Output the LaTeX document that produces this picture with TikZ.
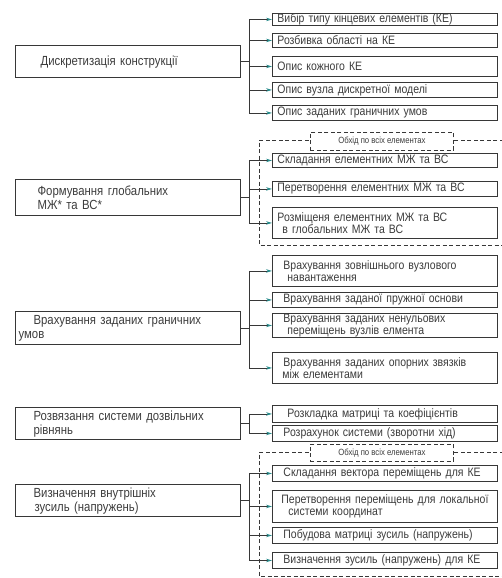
\documentclass[tikz,border=0pt]{standalone}
\usepackage{fontspec}
\setmainfont{Liberation Sans}[FakeStretch=0.86]
\usetikzlibrary{arrows.meta,calc}
\definecolor{tipc}{RGB}{40,140,140}
\definecolor{linec}{RGB}{55,55,55}
\definecolor{txtc}{RGB}{60,60,60}
\tikzset{
 rb/.style={draw=linec, line width=0.9pt, anchor=north west, text width=221pt, inner xsep=2pt, inner ysep=0pt, align=left, font=\fontsize{12.2}{12.5}\selectfont, text=txtc},
 lb/.style={draw=linec, line width=1.2pt, anchor=north west, text width=219pt, inner xsep=3pt, inner ysep=0pt, align=left, font=\fontsize{13.2}{14}\selectfont, text=txtc},
 conn/.style={draw=linec, line width=0.8pt},
 arr/.style={conn, -{Stealth[length=6pt,width=3.5pt,color=tipc]}},
 loopline/.style={draw=linec, line width=0.8pt, dash pattern=on 4pt off 2.5pt},
 lbl/.style={loopline, fill=white, anchor=north west, minimum width=143pt, inner sep=0pt, font=\fontsize{9}{10}\selectfont, text=txtc},
}
\begin{document}
\begin{tikzpicture}[x=1pt,y=-1pt]
\useasboundingbox (0,0) rectangle (502,578);
\coordinate (jx) at (249,0);
% ---------- group 1
\node[lb, minimum height=32] (d) at (15,45) {\hspace*{22pt}Дискретизація конструкції};
\node[rb, minimum height=12] (d1) at (272,13) {\hspace*{3pt}Вибір типу кінцевих елементів (КЕ)};
\node[rb, minimum height=14] (d2) at (272,33) {\hspace*{3pt}Розбивка області на КЕ};
\node[rb, minimum height=20] (d3) at (272,56) {\hspace*{3pt}Опис кожного КЕ};
\node[rb, minimum height=15] (d4) at (272,82) {\hspace*{3pt}Опис вузла дискретної моделі};
\node[rb, minimum height=15] (d5) at (272,105) {\hspace*{3pt}Опис заданих граничних умов};
\draw[conn] (d.east) -- (d.east -| jx);
\draw[conn] (jx |- d1.west) -- (jx |- d5.west);
\foreach \n in {d1,d2,d3,d4,d5} \draw[arr] (jx |- \n.west) -- (\n.west);
% ---------- group 2
\draw[loopline] (510,140) -- (259,140) -- (259,245) -- (510,245);
\node[lbl, minimum height=18] (f0) at (310,132) {Обхід по всіх елементах};
\node[lb, minimum height=36] (f) at (15,179) {\hspace*{19pt}Формування глобальних\\\hspace*{19pt}МЖ* та ВС*};
\node[rb, minimum height=14] (f1) at (272,153) {\hspace*{3pt}Складання елементних МЖ та ВС};
\node[rb, minimum height=15] (f2) at (272,181) {\hspace*{3pt}Перетворення елементних МЖ та ВС};
\node[rb, minimum height=31] (f3) at (272,207) {\hspace*{3pt}Розміщеня елементних МЖ та ВС\\\hspace*{8pt}в глобальних МЖ та ВС};
\draw[conn] (f.east) -- (f.east -| jx);
\draw[conn] (jx |- f1.west) -- (jx |- f3.west);
\foreach \n in {f1,f2,f3} \draw[arr] (jx |- \n.west) -- (\n.west);
% ---------- group 3
\node[lb, minimum height=33] (v) at (15,311) {\hspace*{15pt}Врахування заданих граничних\\умов};
\node[rb, minimum height=31] (v1) at (272,255) {\hspace*{9pt}Врахування зовнішнього вузлового\\\hspace*{13pt}навантаження};
\node[rb, minimum height=15] (v2) at (272,292) {\hspace*{9pt}Врахування заданої пружної основи};
\node[rb, minimum height=24] (v3) at (272,313) {\hspace*{9pt}Врахування заданих ненульових\\\hspace*{13pt}переміщень вузлів елмента};
\node[rb, minimum height=31] (v4) at (272,352) {\hspace*{9pt}Врахування заданих опорних звязків\\\hspace*{8pt}між елементами};
\draw[conn] (v.east) -- (v.east -| jx);
\draw[conn] (jx |- v1.west) -- (jx |- v4.west);
\foreach \n in {v1,v2,v3,v4} \draw[arr] (jx |- \n.west) -- (\n.west);
% ---------- group 4
\node[lb, minimum height=32] (r) at (15,407) {\hspace*{15pt}Розвязання системи дозвільних\\\hspace*{15pt}рівнянь};
\node[rb, minimum height=17] (r1) at (272,405) {\hspace*{13pt}Розкладка матриці та коефіцієнтів};
\node[rb, minimum height=16] (r2) at (272,425) {\hspace*{9pt}Розрахунок системи (зворотни хід)};
\draw[conn] (r.east) -- (r.east -| jx);
\draw[conn] (jx |- r1.west) -- (jx |- r2.west);
\foreach \n in {r1,r2} \draw[arr] (jx |- \n.west) -- (\n.west);
% ---------- group 5
\draw[loopline] (510,452) -- (259,452) -- (259,576) -- (510,576);
\node[lbl, minimum height=17] (z0) at (310,444) {Обхід по всіх елементах};
\node[lb, minimum height=32] (z) at (15,484) {\hspace*{15pt}Визначення внутрішніх\\\hspace*{16pt}зусиль (напружень)};
\node[rb, minimum height=16] (z1) at (272,465) {\hspace*{9pt}Складання вектора переміщень для КЕ};
\node[rb, minimum height=32] (z2) at (272,490) {\hspace*{7pt}Перетворення переміщень для локальної\\\hspace*{14pt}системи координат};
\node[rb, minimum height=16] (z3) at (272,527) {\hspace*{9pt}Побудова матриці зусиль (напружень)};
\node[rb, minimum height=16] (z4) at (272,552) {\hspace*{9pt}Визначення зусиль (напружень) для КЕ};
\draw[conn] (z.east) -- (z.east -| jx);
\draw[conn] (jx |- z1.west) -- (jx |- z4.west);
\foreach \n in {z1,z2,z3,z4} \draw[arr] (jx |- \n.west) -- (\n.west);
\end{tikzpicture}
\end{document}
